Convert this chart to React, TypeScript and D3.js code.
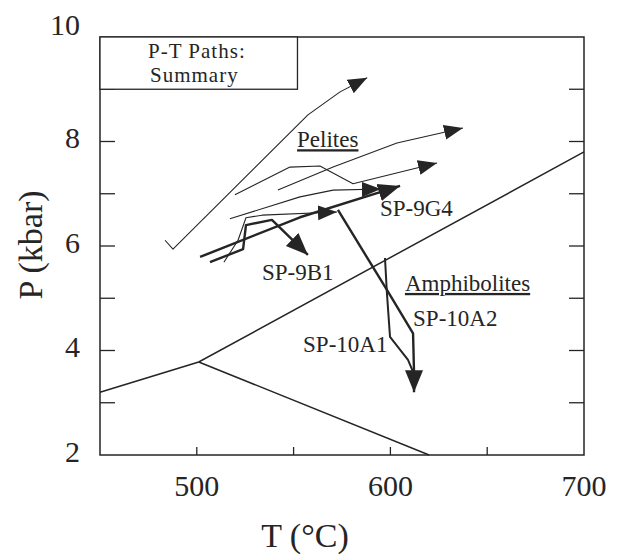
import * as d3 from 'd3';
import React, { useRef, useEffect } from 'react';

// axis setup
const tDomain = [450, 700];
const pDomain = [2, 10];
const tLabels = [500, 600, 700];
const tMinorTicks = [500, 550, 600, 650];
const pLabels = [2, 4, 6, 8, 10];
const pMinorTicks = [3, 4, 5, 6, 7, 8, 9];

// reaction curves (T °C, P kbar)
const reactionUpper = [[450, 3.2], [501, 3.78], [700, 7.8]];
const reactionLower = [[501, 3.78], [620, 2.0]];

// P-T paths
const pathTopThin = [[483.6, 6.11], [487.7, 5.94], [557.4, 8.51], [574, 8.95], [588, 9.22]];
const pathPelite2 = [[541.9, 7.07], [570.4, 7.51], [603.4, 7.97], [637.5, 8.26]];
const pathPelite3 = [[519.7, 6.98], [548.1, 7.51], [563.6, 7.53], [580.7, 7.19], [624.1, 7.59]];
const pathPelite4 = [[517.1, 6.52], [553.3, 6.94], [570.4, 7.07], [595.1, 7.09]];
const pathPelite5 = [[514, 5.69], [521.3, 6.11], [525.4, 6.54], [533.7, 6.59], [572.4, 6.65]];
const pathSP9G4 = [[501.7, 5.79], [553.3, 6.55], [605, 7.15]];
const pathSP9B1 = [[506.8, 5.69], [523.9, 5.94], [525.4, 6.4], [538.8, 6.5], [557.4, 5.83]];
const pathSP10A2 = [[572.9, 6.69], [598.2, 5.16], [611.7, 4.33], [612.2, 3.59], [612.2, 3.2]];
const pathSP10A1 = [[597.2, 5.77], [598.2, 5.1], [599.8, 4.26], [609.1, 3.82], [611.7, 3.59]];

// label text + anchor in data units
const noteText = ["Pelites", "SP-9G4", "SP-9B1", "Amphibolites", "SP-10A2", "SP-10A1"];
const noteT = [551.8, 594.6, 533.7, 607.5, 611.7, 554.9];
const noteP = [7.89, 6.57, 5.35, 5.14, 4.47, 3.97];
const noteUnderline = [true, false, false, true, false, false];

function App() {
    const ref = useRef(null);

    useEffect(() => {
        draw();
    }, []);

    const draw = () => {
        const svg = d3.select(ref.current);
        svg.selectAll("*").remove();

        const margin = { top: 37, right: 34, bottom: 103, left: 100 };
        const width = 618, height = 558;
        const ink = "#252525";
        const font = "Liberation Serif, Times New Roman, serif";

        var x = d3.scaleLinear().domain(tDomain).range([margin.left, width - margin.right]);
        var y = d3.scaleLinear().domain(pDomain).range([height - margin.bottom, margin.top]);

        svg.attr("width", width).attr("height", height)
            .attr("font-family", font);

        // arrowheads: small for thin paths, large for sample paths
        var defs = svg.append("defs");
        function addHead(id, len, half) {
            defs.append("marker")
                .attr("id", id)
                .attr("markerUnits", "userSpaceOnUse")
                .attr("markerWidth", len + 2)
                .attr("markerHeight", half * 2 + 2)
                .attr("viewBox", "0 0 " + (len + 2) + " " + (half * 2 + 2))
                .attr("refX", len)
                .attr("refY", half + 1)
                .attr("orient", "auto")
                .append("path")
                .attr("d", "M0,1 L" + len + "," + (half + 1) + " L0," + (half * 2 + 1) + " Z")
                .attr("fill", ink);
        }
        addHead("head", 19, 7.5);
        addHead("headBig", 22, 9);

        var line = d3.line()
            .x(function(d) { return x(d[0]); })
            .y(function(d) { return y(d[1]); });

        // frame
        svg.append("rect")
            .attr("x", x(450)).attr("y", y(10))
            .attr("width", x(700) - x(450)).attr("height", y(2) - y(10))
            .attr("fill", "none").attr("stroke", ink).attr("stroke-width", 1.5);

        // inward ticks
        var yt = svg.append("g");
        pMinorTicks.forEach(function(p) {
            yt.append("line").attr("x1", x(450)).attr("x2", x(450) + 15)
                .attr("y1", y(p)).attr("y2", y(p)).attr("stroke", ink).attr("stroke-width", 1.3);
            yt.append("line").attr("x1", x(700)).attr("x2", x(700) - 15)
                .attr("y1", y(p)).attr("y2", y(p)).attr("stroke", ink).attr("stroke-width", 1.3);
        });
        tMinorTicks.forEach(function(t) {
            yt.append("line").attr("x1", x(t)).attr("x2", x(t))
                .attr("y1", y(2)).attr("y2", y(2) - 8).attr("stroke", ink).attr("stroke-width", 1.3);
        });

        // tick labels
        svg.append("g").selectAll("text").data(pLabels).enter().append("text")
            .attr("x", 80).attr("y", function(d) { return y(d) - (d === 10 ? 13 : 4); })
            .attr("dy", "0.35em")
            .attr("text-anchor", "end")
            .attr("font-size", 30).attr("fill", ink)
            .text(function(d) { return d; });

        svg.append("g").selectAll("text").data(tLabels).enter().append("text")
            .attr("x", function(d) { return x(d); }).attr("y", y(2) + 30)
            .attr("dy", "0.35em")
            .attr("text-anchor", "middle")
            .attr("font-size", 30).attr("fill", ink)
            .text(function(d) { return d; });

        // axis titles
        svg.append("text")
            .attr("x", 305).attr("y", 535).attr("dy", "0.35em")
            .attr("text-anchor", "middle")
            .attr("font-size", 34).attr("fill", ink)
            .text("T (°C)");
        svg.append("text")
            .attr("transform", "translate(30,245) rotate(-90)")
            .attr("dy", "0.35em")
            .attr("text-anchor", "middle")
            .attr("font-size", 34).attr("fill", ink)
            .text("P (kbar)");

        // title box
        svg.append("rect")
            .attr("x", x(450)).attr("y", y(10))
            .attr("width", x(552) - x(450)).attr("height", y(9) - y(10))
            .attr("fill", "white").attr("stroke", ink).attr("stroke-width", 1.3);
        svg.append("text").attr("x", 148).attr("y", 58)
            .attr("font-size", 21).attr("letter-spacing", 1).attr("fill", ink)
            .text("P-T Paths:");
        svg.append("text").attr("x", 150).attr("y", 82)
            .attr("font-size", 21).attr("letter-spacing", 1).attr("fill", ink)
            .text("Summary");

        // reaction lines
        [reactionUpper, reactionLower].forEach(function(d) {
            svg.append("path").datum(d).attr("d", line)
                .attr("fill", "none").attr("stroke", ink).attr("stroke-width", 1.5);
        });

        // thin pelite paths
        [pathTopThin, pathPelite2, pathPelite3, pathPelite4, pathPelite5].forEach(function(d) {
            svg.append("path").datum(d).attr("d", line)
                .attr("fill", "none").attr("stroke", ink).attr("stroke-width", 1.1)
                .attr("stroke-linejoin", "round")
                .attr("marker-end", "url(#head)");
        });

        // thick sample paths
        [pathSP9G4, pathSP9B1, pathSP10A2].forEach(function(d) {
            svg.append("path").datum(d).attr("d", line)
                .attr("fill", "none").attr("stroke", ink).attr("stroke-width", 2.4)
                .attr("stroke-linejoin", "round")
                .attr("marker-end", "url(#headBig)");
        });
        svg.append("path").datum(pathSP10A1).attr("d", line)
            .attr("fill", "none").attr("stroke", ink).attr("stroke-width", 2)
            .attr("stroke-linejoin", "round");

        // labels
        noteText.forEach(function(t, i) {
            var tx = svg.append("text")
                .attr("x", x(noteT[i])).attr("y", y(noteP[i]))
                .attr("font-size", 23).attr("fill", ink)
                .text(t);
            if (noteUnderline[i]) tx.attr("text-decoration", "underline");
        });
    };

    return (
        <div style={{ position: "absolute", left: 0, top: 0 }}>
            <svg ref={ref} style={{ display: "block" }}></svg>
        </div>
    );
}

export default App;
